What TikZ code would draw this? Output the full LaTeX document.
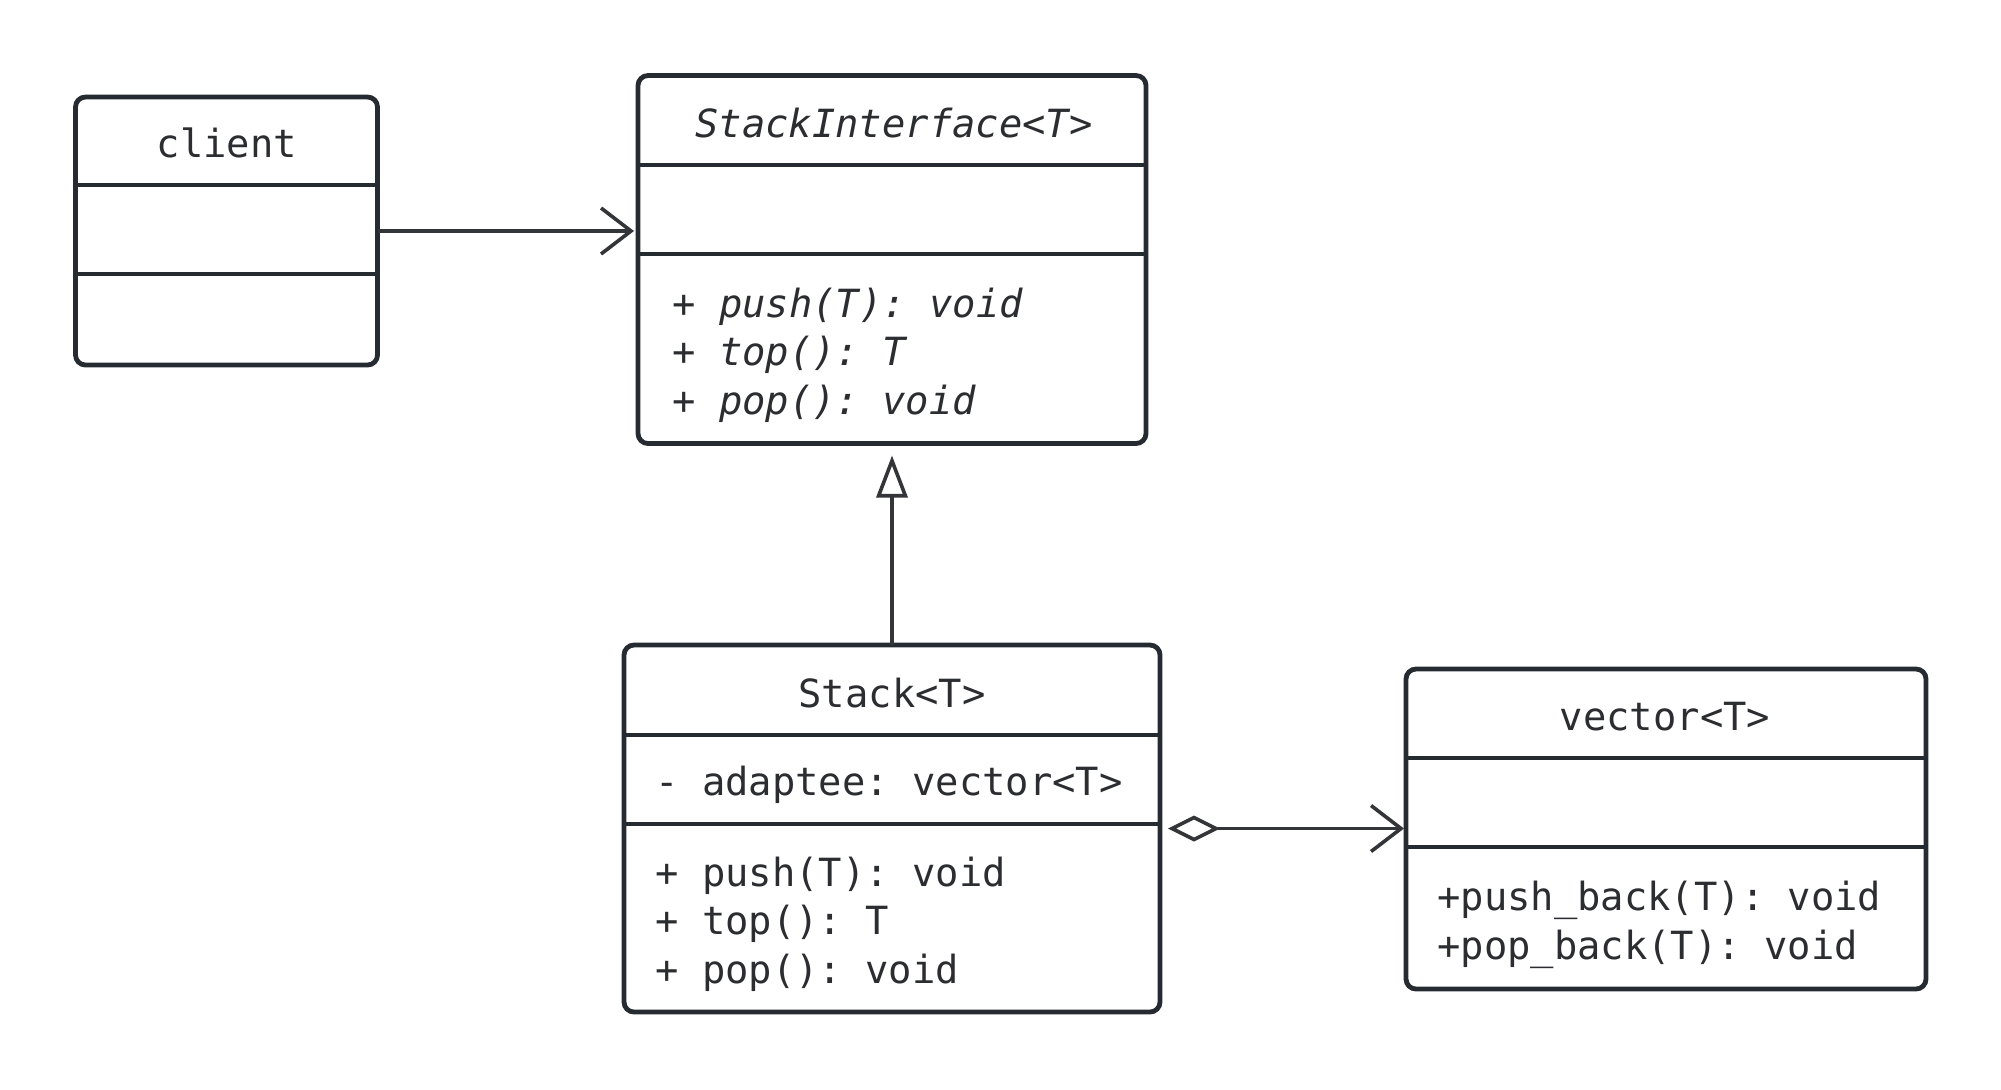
\documentclass[tikz,border=0pt]{standalone}
\usepackage{fontspec}
\setmainfont{DejaVu Sans Mono}
\usetikzlibrary{arrows.meta}
\frenchspacing

\begin{document}
\begin{tikzpicture}[x=0.5pt,y=-0.5pt,
  classbox/.style={draw=umlDark, line width=2.4pt, rounded corners=5pt, fill=white, inner sep=0pt, outer sep=0pt},
  divider/.style={draw=umlDark, line width=2pt},
  clsname/.style={font=\fontsize{19.4}{24}\selectfont, text=umlText, inner sep=0pt, anchor=mid},
  member/.style={font=\fontsize{19.4}{24}\selectfont, text=umlText, inner sep=0pt, anchor=mid west},
  assoc/.style={draw=umlLine, line width=1.8pt, -{Straight Barb[length=15pt,width=23pt,line width=1.8pt]}},
  inherit/.style={draw=umlLine, line width=1.8pt, -{Triangle[open,fill=white,length=21pt,width=15.5pt,line width=1.8pt]}},
  aggr/.style={draw=umlLine, line width=1.8pt, {Diamond[open,fill=white,length=26pt,width=13pt,line width=1.8pt]}-{Straight Barb[length=15pt,width=23pt,line width=1.8pt]}}
]

% Colori
\definecolor{umlDark}{HTML}{262B31}
\definecolor{umlLine}{HTML}{333538}
\definecolor{umlText}{HTML}{2B2D30}

% Sfondo e margini
\fill[white] (0,0) rectangle (2001,1089);
\useasboundingbox (0,0) rectangle (2001,1089);

% client
\node[classbox, minimum width=151pt, minimum height=134pt] (client) at (226.5,231) {};
\draw[divider] (client.west |- 0,185) -- (client.east |- 0,185);
\draw[divider] (client.west |- 0,274) -- (client.east |- 0,274);
\node[clsname] (clientname) at (227,152) {client};

% StackInterface<T>
\node[classbox, minimum width=254pt, minimum height=184pt] (si) at (892,259.5) {};
\draw[divider] (si.west |- 0,165) -- (si.east |- 0,165);
\draw[divider] (si.west |- 0,254) -- (si.east |- 0,254);
\node[clsname] (siname) at (894,132) {\itshape StackInterface<T>};
\node[member] (sipush) at (672,312) {\itshape + push(T): void};
\node[member] (sitop) at (672,360) {\itshape + top(): T};
\node[member] (sipop) at (672,409) {\itshape + pop(): void};

% Stack<T>
\node[classbox, minimum width=268pt, minimum height=183.5pt] (stack) at (892,828.5) {};
\draw[divider] (stack.west |- 0,735) -- (stack.east |- 0,735);
\draw[divider] (stack.west |- 0,824) -- (stack.east |- 0,824);
\node[clsname] (stackname) at (892,702) {Stack<T>};
\node[member] (stackattr) at (655,790) {- adaptee: vector<T>};
\node[member] (stackpush) at (655,881) {+ push(T): void};
\node[member] (stacktop) at (655,929) {+ top(): T};
\node[member] (stackpop) at (655,978) {+ pop(): void};

% vector<T>
\node[classbox, minimum width=260pt, minimum height=160pt] (vector) at (1666,829) {};
\draw[divider] (vector.west |- 0,758) -- (vector.east |- 0,758);
\draw[divider] (vector.west |- 0,847) -- (vector.east |- 0,847);
\node[clsname] (vectorname) at (1665,725) {vector<T>};
\node[member] (vecpush) at (1437,905) {+push\_back(T): void};
\node[member] (vecpop) at (1437,954) {+pop\_back(T): void};

% Relazioni
\draw[assoc, shorten >=2pt] (client.east) -- (client.east -| si.west);
\draw[inherit, shorten >=6pt] (stack.north) -- (stack.north |- si.south);
\draw[aggr, shorten <=4pt, shorten >=1pt] (stack.east) -- (stack.east -| vector.west);

\end{tikzpicture}
\end{document}
